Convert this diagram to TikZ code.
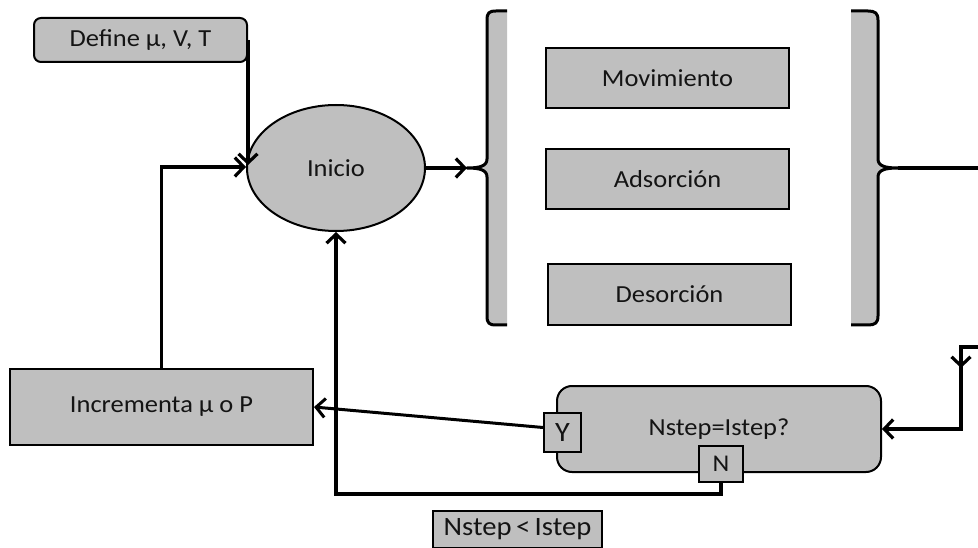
\documentclass[tikz,border=0pt]{standalone}
\usepackage{fontspec}
\setmainfont{Carlito}[FakeStretch=1.08]
\usetikzlibrary{arrows.meta,shapes.geometric,calc}
\definecolor{boxgray}{HTML}{BFBFBF}
\definecolor{ink}{HTML}{141414}
\begin{document}
\begin{tikzpicture}[x=1pt,y=-1pt,
  every node/.style={text=ink,font=\fontsize{24.5}{28}\selectfont},
  box/.style={draw=black,fill=boxgray,line width=2pt,inner sep=0pt,rectangle},
  rbox/.style={box,rounded corners=#1},
  conn/.style={draw=black,line width=3.2pt},
  tip/.style={-{Straight Barb[length=9pt,width=19pt]}},
  brk/.style={draw=black,line width=3pt,line join=round}]
\useasboundingbox (0,0) rectangle (978,548);

% nodes
\node[rbox=7pt,minimum width=213pt,minimum height=44pt] (def) at (140.5,40) {Define μ, V, T};
\node[box,ellipse,minimum width=178pt,minimum height=126pt] (ini) at (336,168) {Inicio};
\node[box,minimum width=303pt,minimum height=76pt] (inc) at (161.5,407) {Incrementa μ o P};
\node[box,minimum width=243pt,minimum height=60pt] (mov) at (667.5,78) {Movimiento};
\node[box,minimum width=243pt,minimum height=60pt] (ads) at (667.5,179) {Adsorción};
\node[box,minimum width=243pt,minimum height=61pt] (des) at (669.5,294.5) {Desorción};
\node[rbox=15pt,minimum width=324pt,minimum height=86pt] (chk) at (719,429) {Nstep=Istep?};
\node[box,minimum width=37pt,minimum height=39pt,font=\fontsize{28}{30}\selectfont] (yes) at (562.5,432.5) {Y};
\node[box,minimum width=44pt,minimum height=36pt,font=\fontsize{24}{26}\selectfont] (no) at (721,464) {N};
\node[box,minimum width=169pt,minimum height=37pt,font=\fontsize{26.5}{30}\selectfont] (cond) at (517.5,529) {Nstep\,<\,Istep};

% brackets around the three processes
\fill[boxgray] (507,11) -- (496,11) .. controls (489,11) and (487,13) .. (487,20) -- (487,159)
  .. controls (487,166) and (480,168) .. (467,168) .. controls (480,168) and (487,170) .. (487,177)
  -- (487,316) .. controls (487,323) and (489,325) .. (496,325) -- (507,325) -- cycle;
\draw[brk] (507,11) -- (496,11) .. controls (489,11) and (487,13) .. (487,20) -- (487,159)
  .. controls (487,166) and (480,168) .. (467,168) .. controls (480,168) and (487,170) .. (487,177)
  -- (487,316) .. controls (487,323) and (489,325) .. (496,325) -- (507,325);
\coordinate (lcusp) at (467,168);

\fill[boxgray] (851,11) -- (868,11) .. controls (875,11) and (878,13) .. (878,20) -- (878,159)
  .. controls (878,166) and (885,168) .. (898,168) .. controls (885,168) and (878,170) .. (878,177)
  -- (878,316) .. controls (878,323) and (875,325) .. (868,325) -- (851,325) -- cycle;
\draw[brk] (851,11) -- (868,11) .. controls (875,11) and (878,13) .. (878,20) -- (878,159)
  .. controls (878,166) and (885,168) .. (898,168) .. controls (885,168) and (878,170) .. (878,177)
  -- (878,316) .. controls (878,323) and (875,325) .. (868,325) -- (851,325);
\coordinate (rcusp) at (898,168);
\coordinate (rout) at (978,168);
\coordinate (rin) at (978,347);
\coordinate (rturn) at (961,347);
\coordinate (nbot) at (721,494);

% connectors
\draw[conn,tip] (def.east) -- ($(def.east |- ini.west)+(0,-3)$);
\draw[conn,tip] (inc.north) |- ($(ini.west)+(0,-1)$);
\draw[conn,tip] (ini.east) -- (lcusp);
\draw[conn] (rcusp) -- (rout);
\draw[conn,tip] (rin) -- (rturn) |- (chk.east);
\draw[conn,tip] (rturn) -- ++(0,21);
\draw[conn,line width=3pt,tip] ([yshift=5pt]yes.west) -- (inc.east);
\draw[conn,tip] (no.south) -- (nbot) -| (ini.south);
\end{tikzpicture}
\end{document}
